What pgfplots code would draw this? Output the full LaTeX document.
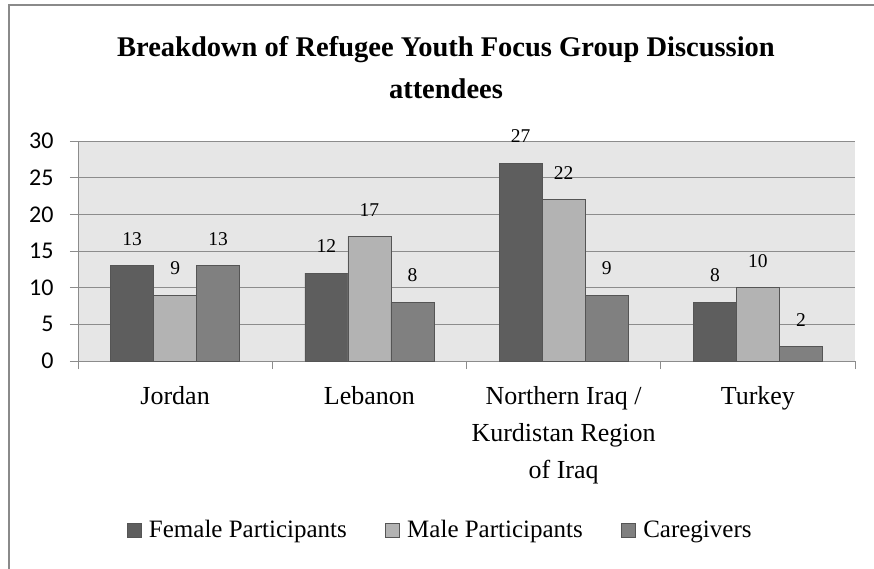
\documentclass[border=0pt]{standalone}
\usepackage{pgfplots}
\pgfplotsset{compat=1.18}
\usepackage{fontspec}
\setmainfont{Liberation Serif}
\newfontfamily\calibri{Carlito}
\definecolor{cF}{HTML}{5E5E5E}
\definecolor{cM}{HTML}{B3B3B3}
\definecolor{cC}{HTML}{808080}
\definecolor{bg}{HTML}{E6E6E6}
\definecolor{gridc}{HTML}{8C8C8C}
\definecolor{edge}{HTML}{555555}
\definecolor{framec}{HTML}{8A8A8A}
\pgfplotsset{sqlegend/.style={legend image code/.code={\draw[##1,draw=edge] (0pt,-7pt) rectangle (14pt,7pt);}}}
\begin{document}
\begin{tikzpicture}[x=1pt,y=1pt]
\begin{axis}[
  scale only axis,
  width=777pt, height=220pt,
  clip=false,
  ymin=0, ymax=30, ytick={0,5,...,30},
  xmin=-0.5, xmax=3.5, xtick={0,1,2,3},
  xticklabels={Jordan,Lebanon,{Northern Iraq /\\Kurdistan Region\\of Iraq},Turkey},
  minor xtick={-0.5,0.5,1.5,2.5,3.5},
  major x tick style={draw=none},
  tick align=outside, major tick length=8pt, minor tick length=8pt,
  tick style={gridc, line width=0.8pt},
  axis x line*=bottom, axis y line*=left,
  axis line style={gridc, line width=0.8pt, -},
  ymajorgrids, grid style={gridc, line width=0.8pt},
  axis background/.style={fill=bg},
  ybar=0pt, bar width=43pt,
  xticklabel style={font=\fontsize{26}{37}\selectfont, align=center, anchor=north, inner sep=0pt, yshift=-17pt},
  yticklabel style={font=\calibri\fontsize{24}{24}\selectfont, xshift=-13pt},
  /pgf/number format/assume math mode=true,
  nodes near coords,
  every node near coord/.append style={font=\fontsize{19.5}{19.5}\selectfont, inner sep=0pt, yshift=20pt, black},
  legend columns=3,
  legend cell align=left,
  legend style={at={(0.466,-0.768)}, anchor=center, draw=none, fill=none,
    font=\fontsize{25}{25}\selectfont,
    /tikz/every odd column/.append style={column sep=6pt},
    /tikz/every even column/.append style={column sep=36pt}},
]
\coordinate (O) at (rel axis cs:0,0);
\addplot[fill=cF, draw=edge, sqlegend] coordinates {(0,13) (1,12) (2,27) (3,8)};
\addplot[fill=cM, draw=edge, sqlegend] coordinates {(0,9) (1,17) (2,22) (3,10)};
\addplot[fill=cC, draw=edge, sqlegend] coordinates {(0,13) (1,8) (2,9) (3,2)};
\legend{Female Participants, Male Participants, Caregivers}
\end{axis}
\pgfresetboundingbox
\path[use as bounding box] ([shift={(-78,-208)}]O) rectangle ++(874,569);
\draw[framec, line width=2pt] ([shift={(-69,-208)}]O) -- ++(0,564) -- ++(865,0);
\node[font=\fontsize{28.5}{42}\selectfont\bfseries, align=center, anchor=north, inner sep=0pt] at ([shift={(368,325)}]O) {Breakdown of Refugee Youth Focus Group Discussion\\attendees};
\end{tikzpicture}
\end{document}
